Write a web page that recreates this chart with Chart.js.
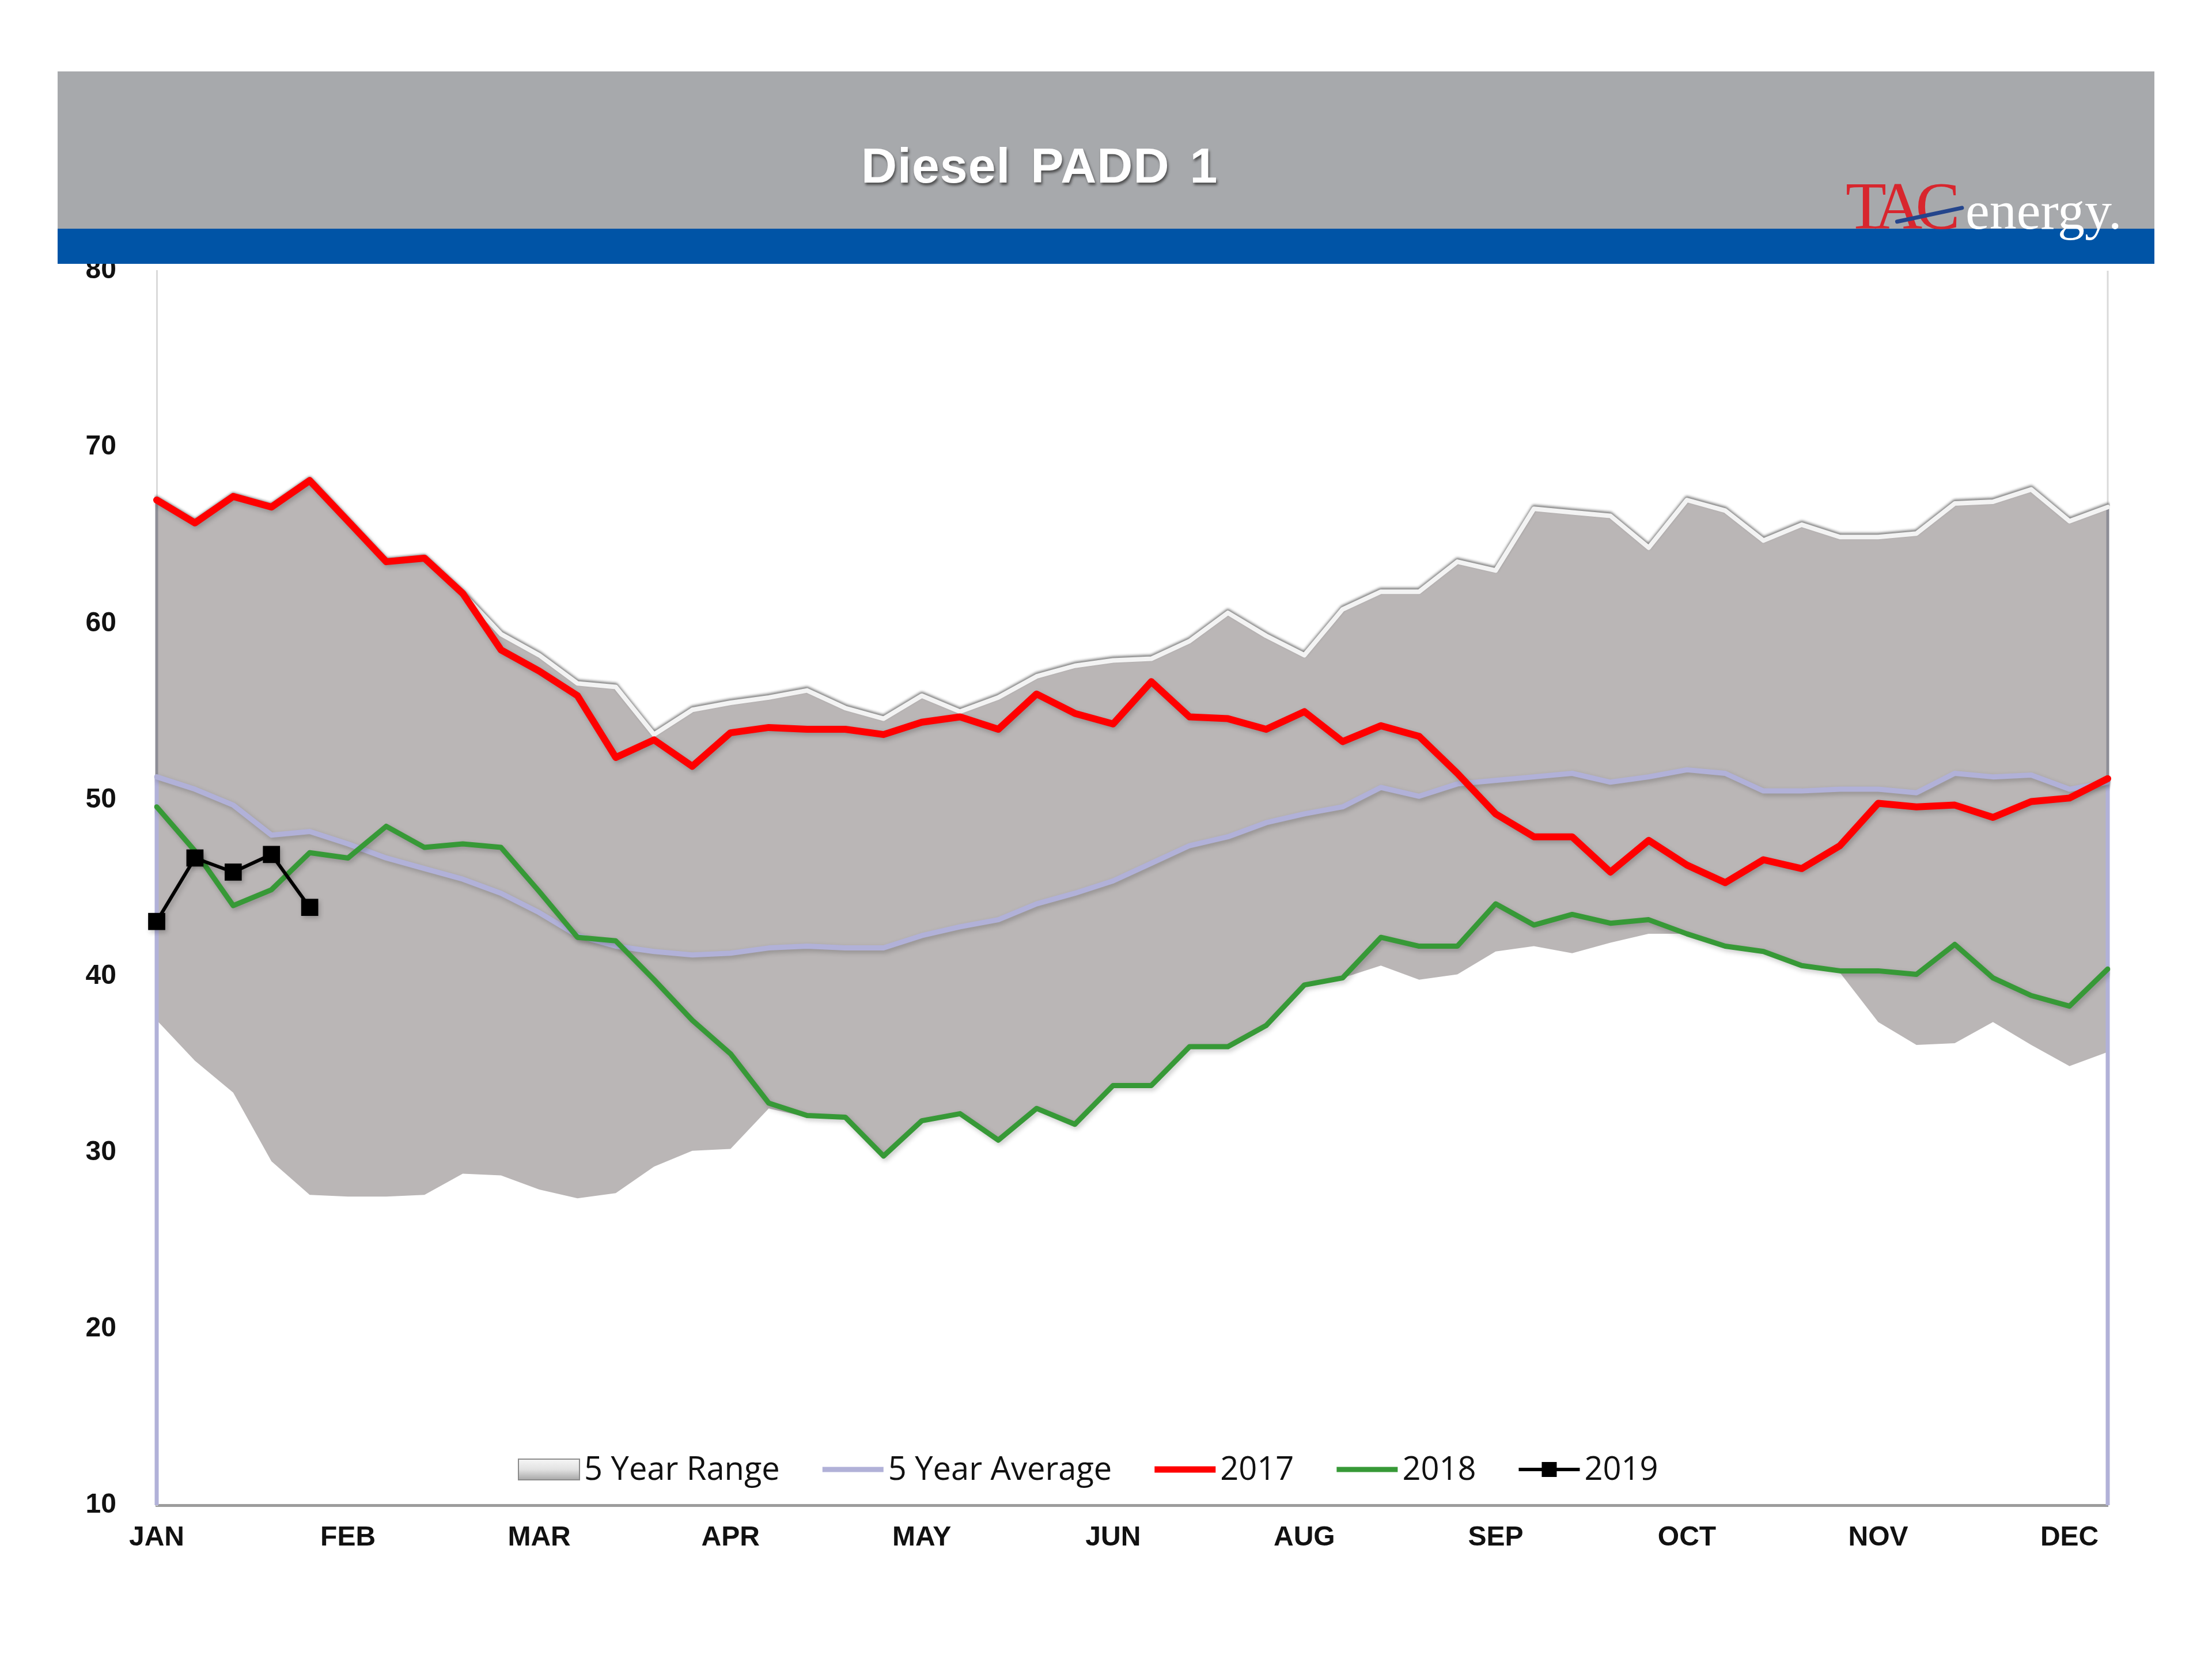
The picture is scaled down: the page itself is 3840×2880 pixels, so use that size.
<!DOCTYPE html>
<html lang="en">
<head>
  <meta charset="utf-8">
  <title>Diesel PADD 1</title>
  <script src="https://cdn.jsdelivr.net/npm/chart.js"></script>
  <style>
    * { box-sizing:border-box; margin:0; padding:0 }
    html, body { width:3840px; height:2880px; background:#fff; overflow:hidden }
    #wrap { position:relative; width:3840px; height:2880px }
    #chart { position:absolute; left:0; top:0 }
    #header { position:absolute; left:100px; top:124px; width:3640px; height:334px; z-index:2 }
    #band { position:absolute; left:0; top:0; width:100%; height:273px; background:#a7a9ac }
    #stripe { position:absolute; left:0; top:273px; width:100%; height:61px; background:#0054a6 }
    #title {
      position:absolute; left:1395px; top:120px; white-space:nowrap;
      font:bold 86px/86px "Liberation Sans", Arial, sans-serif; color:#fff;
      letter-spacing:1px; word-spacing:10px; text-shadow:2px 4px 4px rgba(50,50,50,0.75)
    }
    .logo { position:absolute; white-space:nowrap; font-family:"Liberation Serif", "Times New Roman", serif }
    #tac { left:3104px; top:176px; font-size:116px; line-height:116px; color:#d8262e; letter-spacing:-12px }
    #energy { left:3312px; top:194px; font-size:94px; line-height:94px; color:#fff }
    #swoosh {
      position:absolute; left:3190px; top:258px; width:122px; height:7px; border-radius:4px;
      background:#24458c; transform-origin:left center; transform:rotate(-12deg)
    }
  </style>
</head>
<body>
<div id="wrap">
  <canvas id="chart" width="3840" height="2880"></canvas>
  <div id="header">
    <div id="band"></div>
    <div id="stripe"></div>
    <div id="title">Diesel PADD 1</div>
    <div class="logo" id="tac">TAC</div>
    <div class="logo" id="energy">energy.</div>
    <div id="swoosh"></div>
  </div>
</div>

<script>
// ===== DATA (weekly, 52 weeks) =====
const weekLabels = [
  'JAN','','','','',
  'FEB','','','','',
  'MAR','','','','',
  'APR','','','','',
  'MAY','','','','',
  'JUN','','','','',
  'AUG','','','','',
  'SEP','','','','',
  'OCT','','','','',
  'NOV','','','','',
  'DEC',''
];

const range5Max = [
  67.0,65.7,67.2,66.6,68.1,65.8,63.5,63.7,61.7,59.4,
  58.2,56.6,56.4,53.7,55.1,55.5,55.8,56.2,55.2,54.6,
  55.9,55.0,55.8,57.0,57.6,57.9,58.0,59.0,60.6,59.3,
  58.2,60.8,61.8,61.8,63.5,63.0,66.5,66.3,66.1,64.3,
  67.0,66.4,64.7,65.6,64.9,64.9,65.1,66.8,66.9,67.6,
  65.8,66.6
];
const range5Min = [
  37.5,35.2,33.4,29.5,27.6,27.5,27.5,27.6,28.8,28.7,
  27.9,27.4,27.7,29.2,30.1,30.2,32.5,32.0,31.9,29.8,
  31.8,32.2,30.7,32.5,31.6,33.8,33.8,36.0,36.0,37.2,
  39.5,39.9,40.6,39.8,40.1,41.4,41.7,41.3,41.9,42.4,
  42.4,41.7,41.4,40.6,40.2,37.4,36.1,36.2,37.4,36.1,
  34.9,35.7
];
const avg5 = [
  51.3,50.6,49.7,48.0,48.2,47.5,46.7,46.1,45.5,44.7,
  43.6,42.3,41.7,41.4,41.2,41.3,41.6,41.7,41.6,41.6,
  42.3,42.8,43.2,44.1,44.7,45.4,46.4,47.4,47.9,48.7,
  49.2,49.6,50.7,50.2,50.9,51.1,51.3,51.5,51.0,51.3,
  51.7,51.5,50.5,50.5,50.6,50.6,50.4,51.5,51.3,51.4,
  50.6,51.0
];
const y2017 = [
  67.0,65.7,67.2,66.6,68.1,65.8,63.5,63.7,61.7,58.5,
  57.3,55.9,52.4,53.4,51.9,53.8,54.1,54.0,54.0,53.7,
  54.4,54.7,54.0,56.0,54.9,54.3,56.7,54.7,54.6,54.0,
  55.0,53.3,54.2,53.6,51.5,49.2,47.9,47.9,45.9,47.7,
  46.3,45.3,46.6,46.1,47.4,49.8,49.6,49.7,49.0,49.9,
  50.1,51.2
];
const y2018 = [
  49.6,47.1,44.0,44.9,47.0,46.7,48.5,47.3,47.5,47.3,
  44.8,42.2,42.0,39.8,37.5,35.6,32.8,32.1,32.0,29.8,
  31.8,32.2,30.7,32.5,31.6,33.8,33.8,36.0,36.0,37.2,
  39.5,39.9,42.2,41.7,41.7,44.1,42.9,43.5,43.0,43.2,
  42.4,41.7,41.4,40.6,40.3,40.3,40.1,41.8,39.9,38.9,
  38.3,40.4
];
const y2019 = [43.1,46.7,45.9,46.9,43.9];

// ===== STYLE =====
const RED = '#ff0000', GREEN = '#379937', AVG = '#b1b1d8', BLACK = '#000000', RANGE = '#bab6b6';
const axisFont = { family:'"Liberation Sans", Arial, sans-serif', size:48, weight:'bold' };

const legendItems = [
  { text:'5 Year Range', box:true },
  { text:'5 Year Average', color:AVG, width:9 },
  { text:'2017', color:RED, width:11 },
  { text:'2018', color:GREEN, width:9 },
  { text:'2019', color:BLACK, width:6, marker:true }
];

// ===== Plugins =====
// soft Excel-like shadows, range top edge gets a bevel outline
const lineShadows = {
  id:'lineShadows',
  beforeDatasetDraw(chart, args) {
    const ctx = chart.ctx;
    ctx.save();
    if (args.index === 4) {
      ctx.shadowColor = 'rgba(60,60,60,0.65)'; ctx.shadowBlur = 4; ctx.shadowOffsetY = -3;
    } else if (args.index !== 5) {
      ctx.shadowColor = 'rgba(0,0,0,0.22)'; ctx.shadowBlur = 8; ctx.shadowOffsetX = 3; ctx.shadowOffsetY = 4;
    }
  },
  afterDatasetDraw(chart) { chart.ctx.restore(); }
};

// drop lines at both ends of the range area + right frame edge
const edgeLines = {
  id:'edgeLines',
  beforeDatasetsDraw(chart) {
    const { ctx, chartArea } = chart;
    const xs = chart.scales.x, ys = chart.scales.y;
    ctx.save();
    ctx.strokeStyle = '#dadada'; ctx.lineWidth = 3;
    ctx.beginPath(); ctx.moveTo(chartArea.right, chartArea.top); ctx.lineTo(chartArea.right, chartArea.bottom); ctx.stroke();
    [0, weekLabels.length - 1].forEach(i => {
      const px = xs.getPixelForValue(i);
      ctx.strokeStyle = '#8d8d96'; ctx.lineWidth = 5;
      ctx.beginPath(); ctx.moveTo(px, ys.getPixelForValue(range5Max[i])); ctx.lineTo(px, ys.getPixelForValue(avg5[i])); ctx.stroke();
      ctx.strokeStyle = AVG; ctx.lineWidth = 7;
      ctx.beginPath(); ctx.moveTo(px, ys.getPixelForValue(avg5[i])); ctx.lineTo(px, ys.getPixelForValue(ys.min)); ctx.stroke();
    });
    ctx.restore();
  }
};

// legend sits inside the plot, just above the x axis
const insideLegend = {
  id:'insideLegend',
  afterDraw(chart) {
    const { ctx, chartArea } = chart;
    const mid = chartArea.bottom - 62, base = chartArea.bottom - 44, bw = 106;
    let x = chartArea.left + 628;
    ctx.save();
    ctx.font = '56px "Open Sans", "Liberation Sans", sans-serif';
    ctx.textBaseline = 'alphabetic';
    legendItems.forEach(it => {
      if (it.box) {
        const g = ctx.createLinearGradient(0, mid - 18, 0, mid + 18);
        g.addColorStop(0, '#f6f6f6'); g.addColorStop(0.5, '#e2e2e2'); g.addColorStop(1, '#a8a8a8');
        ctx.fillStyle = g; ctx.fillRect(x, mid - 18, bw, 36);
        ctx.strokeStyle = '#8c8c8c'; ctx.lineWidth = 2; ctx.strokeRect(x, mid - 18, bw, 36);
      } else {
        ctx.strokeStyle = it.color; ctx.lineWidth = it.width;
        ctx.beginPath(); ctx.moveTo(x, mid); ctx.lineTo(x + bw, mid); ctx.stroke();
        if (it.marker) { ctx.fillStyle = it.color; ctx.fillRect(x + bw / 2 - 13, mid - 13, 26, 26); }
      }
      x += bw + 8;
      ctx.fillStyle = '#111';
      ctx.fillText(it.text, x, base);
      x += ctx.measureText(it.text).width + 74;
    });
    ctx.restore();
  }
};

// ===== Chart =====
new Chart(document.getElementById('chart'), {
  type:'line',
  data:{
    labels:weekLabels,
    datasets:[
      { label:'2019', data:y2019, borderColor:BLACK, borderWidth:6,
        pointStyle:'rect', pointRadius:21, pointBackgroundColor:BLACK, pointBorderWidth:0 },
      { label:'2018', data:y2018, borderColor:GREEN, borderWidth:9 },
      { label:'2017', data:y2017, borderColor:RED, borderWidth:12 },
      { label:'5 Year Average', data:avg5, borderColor:AVG, borderWidth:9 },
      { label:'5 Year Range', data:range5Max, borderColor:'#f3f3f3', borderWidth:8,
        fill:'+1', backgroundColor:RANGE },
      { label:'range min', data:range5Min, borderWidth:0, borderColor:'rgba(0,0,0,0)', fill:false }
    ]
  },
  options:{
    responsive:false,
    animation:false,
    layout:{ padding:{ left:0, top:470, right:181, bottom:0 } },
    elements:{
      line:{ tension:0, borderJoinStyle:'round', borderCapStyle:'round' },
      point:{ radius:0 }
    },
    plugins:{
      legend:{ display:false },
      tooltip:{ enabled:false },
      filler:{ drawTime:'beforeDatasetsDraw' }
    },
    scales:{
      x:{
        type:'category', offset:false,
        grid:{ display:false, drawTicks:false },
        border:{ display:true, color:'#9c9c9c', width:5 },
        ticks:{ autoSkip:false, maxRotation:0, minRotation:0, padding:28, color:'#111', font:axisFont },
        afterFit(s){ s.height = 267; }
      },
      y:{
        min:10, max:80,
        grid:{ display:false, drawTicks:false },
        border:{ display:true, color:'#dadada', width:3 },
        ticks:{ stepSize:10, padding:70, color:'#111', font:axisFont },
        afterFit(s){ s.width = 272; }
      }
    }
  },
  plugins:[lineShadows, edgeLines, insideLegend]
});
</script>
</body>
</html>
